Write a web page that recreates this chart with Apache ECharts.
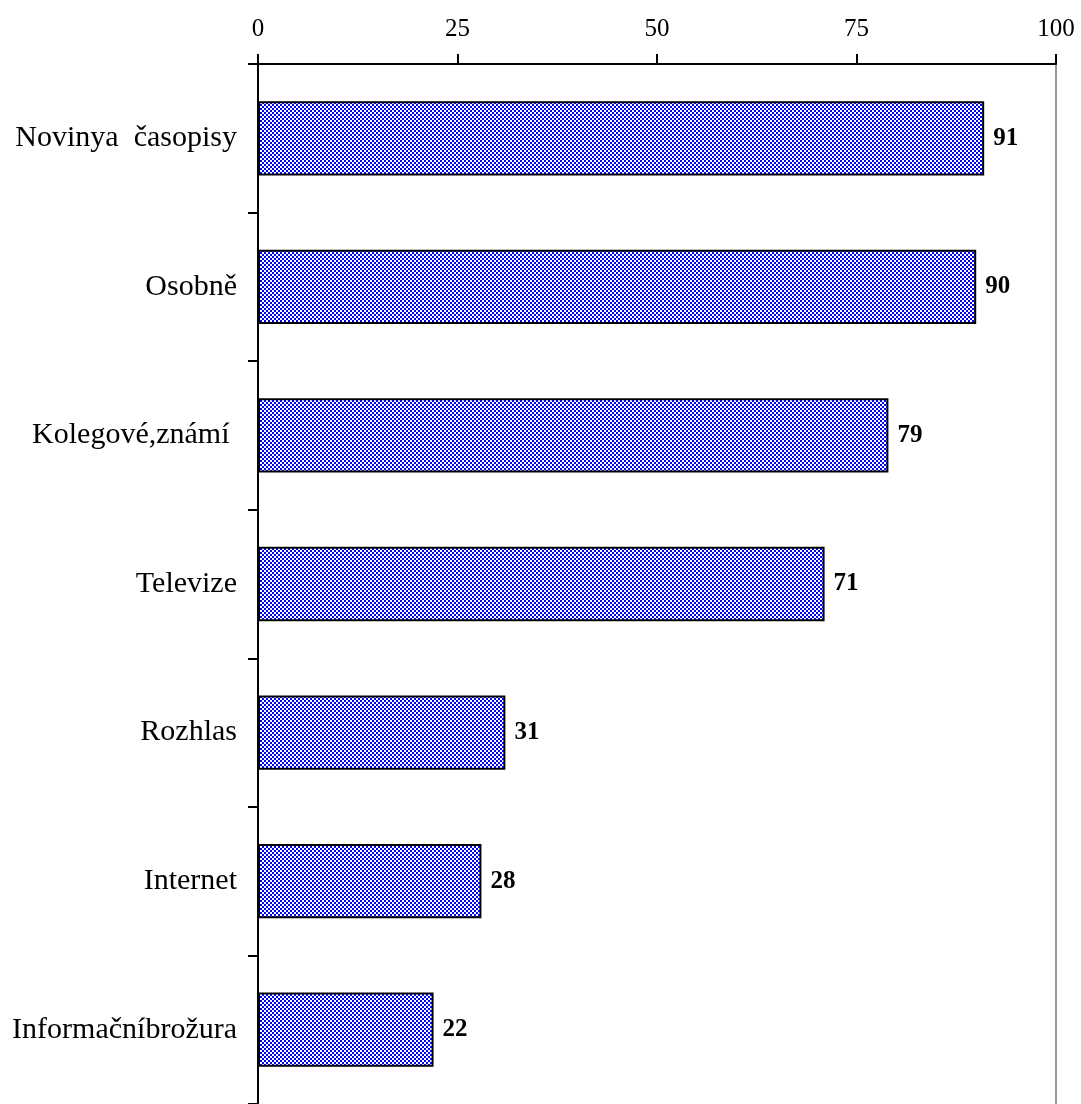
<!DOCTYPE html>
<html>
<head>
<meta charset="utf-8">
<script src="https://cdn.jsdelivr.net/npm/echarts@6/dist/echarts.min.js"></script>
<style>
html,body{margin:0;padding:0;background:#fff;}
#chart{width:1081px;height:1104px;}
</style>
</head>
<body>
<div id="chart"></div>
<script>
var categories = ['Novinya  časopisy', 'Osobně', 'Kolegové,známí ', 'Televize', 'Rozhlas', 'Internet', 'Informačníbrožura'];
var values = [91, 90, 79, 71, 31, 28, 22];
var tickValues = [0, 25, 50, 75, 100];

var pc = document.createElement('canvas');
pc.width = 4; pc.height = 4;
var ctx = pc.getContext('2d');
ctx.fillStyle = '#ffffff';
ctx.fillRect(0, 0, 4, 4);
ctx.fillStyle = '#0000ff';
ctx.fillRect(0, 0, 2, 2);
ctx.fillRect(2, 2, 2, 2);

var chart = echarts.init(document.getElementById('chart'));
var font = '"Liberation Serif", "Times New Roman", serif';
chart.setOption({
  animation: false,
  backgroundColor: '#ffffff',
  grid: { left: 258, right: 25, top: 64, height: 1043, containLabel: false },
  xAxis: {
    type: 'value', position: 'top', min: 0, max: 100, interval: 25,
    axisLine: { show: true, lineStyle: { color: '#000', width: 2 } },
    axisTick: { show: true, inside: false, length: 10, lineStyle: { color: '#000', width: 2 } },
    axisLabel: { color: '#000', fontSize: 25, fontFamily: font, margin: 22,
      formatter: function (v) { return tickValues.indexOf(v) >= 0 ? String(v) : ''; } },
    splitLine: { show: false }
  },
  yAxis: [{
    type: 'category', inverse: true, data: categories,
    axisLine: { show: true, onZero: false, lineStyle: { color: '#000', width: 2 } },
    axisTick: { show: true, length: 10, lineStyle: { color: '#000', width: 2 } },
    axisLabel: { color: '#000', fontSize: 30, fontFamily: font, margin: 21 }
  }, {
    type: 'category', inverse: true, data: categories, position: 'right',
    axisLine: { show: true, onZero: false, lineStyle: { color: '#999', width: 2 } },
    axisTick: { show: false }, axisLabel: { show: false }
  }],
  series: [{
    type: 'bar', data: values, barWidth: '50%',
    itemStyle: { color: { image: pc, repeat: 'repeat' }, borderColor: '#000', borderWidth: 2 },
    label: { show: true, position: 'right', distance: 9, color: '#000', fontSize: 25, fontWeight: 'bold', fontFamily: font }
  }]
});
</script>
</body>
</html>
